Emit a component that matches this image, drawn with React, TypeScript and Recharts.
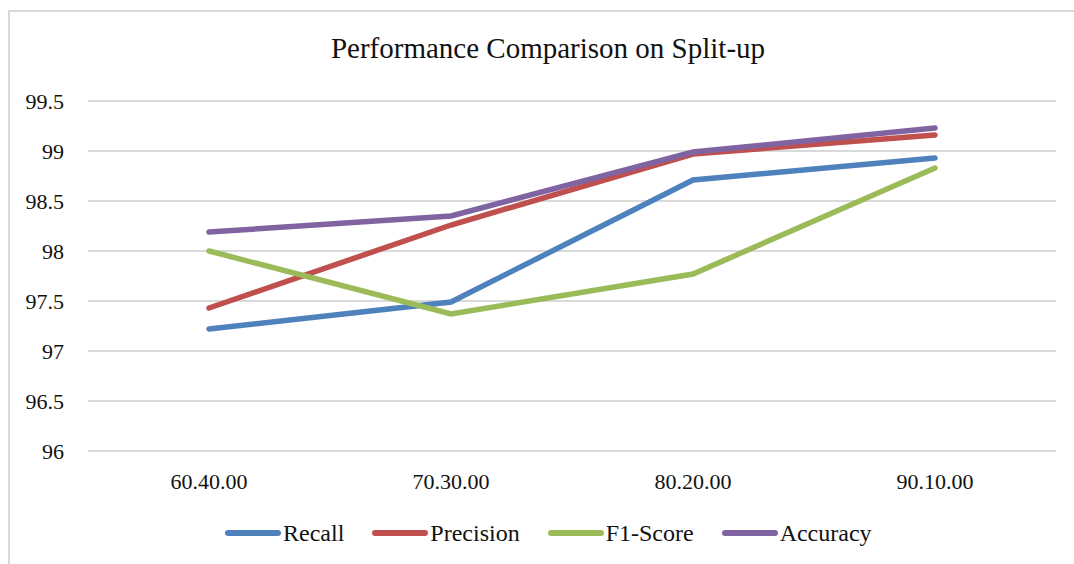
import { LineChart, Line, XAxis, YAxis, CartesianGrid } from 'recharts';

const splits = ['60.40.00', '70.30.00', '80.20.00', '90.10.00'];
const recall = [97.22, 97.49, 98.71, 98.93];
const precision = [97.43, 98.26, 98.97, 99.16];
const f1Score = [98.0, 97.37, 97.77, 98.83];
const accuracy = [98.19, 98.35, 98.99, 99.23];
const yTicks = [96, 96.5, 97, 97.5, 98, 98.5, 99, 99.5];

const series = [
  { key: 'Recall', color: '#4F81BD' },
  { key: 'Precision', color: '#C0504D' },
  { key: 'F1-Score', color: '#9BBB59' },
  { key: 'Accuracy', color: '#8064A2' },
];

const data = splits.map((split, i) => ({
  split,
  Recall: recall[i],
  Precision: precision[i],
  'F1-Score': f1Score[i],
  Accuracy: accuracy[i],
}));

const font = '"Liberation Serif", "Times New Roman", serif';

// legend drawn outside the chart so it does not shrink the plot area
const ChartLegend = () => (
  <div
    style={{
      position: 'absolute',
      left: 225,
      top: 518,
      display: 'flex',
      gap: 28,
      fontFamily: font,
      fontSize: 24,
      color: '#111',
      lineHeight: '30px',
    }}
  >
    {series.map((s) => (
      <div key={s.key} style={{ display: 'flex', alignItems: 'center' }}>
        <span style={{ display: 'inline-block', width: 56, height: 6, borderRadius: 3, background: s.color, marginRight: 2 }} />
        <span>{s.key}</span>
      </div>
    ))}
  </div>
);

export default function App() {
  return (
    <div style={{ position: 'absolute', left: 0, top: 0, width: 1074, height: 564, background: '#fff', overflow: 'hidden' }}>
      <div
        style={{
          position: 'absolute',
          left: 8,
          top: 10,
          width: 1100,
          height: 600,
          borderLeft: '2px solid #D9D9D9',
          borderTop: '2px solid #D9D9D9',
        }}
      />
      <div
        style={{
          position: 'absolute',
          left: 248,
          width: 600,
          top: 32,
          textAlign: 'center',
          fontFamily: font,
          fontSize: 29,
          color: '#111',
        }}
      >
        Performance Comparison on Split-up
      </div>
      <div style={{ position: 'absolute', left: 0, top: 0 }}>
        <LineChart width={1074} height={564} data={data} margin={{ top: 101, right: 18, bottom: 83, left: 0 }}>
          <CartesianGrid vertical={false} stroke="#D9D9D9" strokeWidth={2} />
          <XAxis
            dataKey="split"
            scale="point"
            height={30}
            padding={{ left: 121, right: 121 }}
            axisLine={false}
            tickLine={false}
            tickSize={0}
            tickMargin={22}
            tick={{ fontFamily: font, fontSize: 22, fill: '#111' }}
          />
          <YAxis
            width={88}
            domain={[96, 99.5]}
            ticks={yTicks}
            axisLine={false}
            tickLine={false}
            tickSize={0}
            tickMargin={24}
            tick={{ fontFamily: font, fontSize: 22, fill: '#111' }}
          />
          {series.map((s) => (
            <Line
              key={s.key}
              type="linear"
              dataKey={s.key}
              stroke={s.color}
              strokeWidth={5.5}
              strokeLinecap="round"
              dot={false}
              activeDot={false}
              isAnimationActive={false}
            />
          ))}
        </LineChart>
      </div>
      <ChartLegend />
    </div>
  );
}
